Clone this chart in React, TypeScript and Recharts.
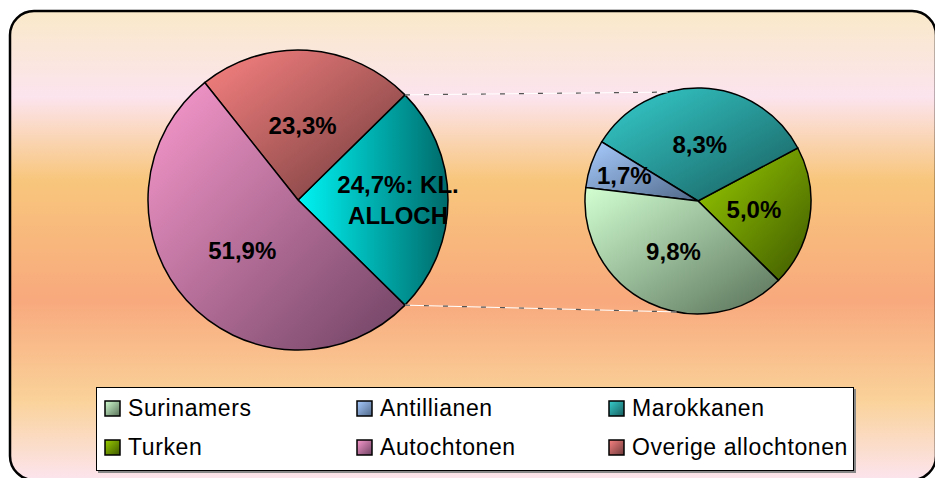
import { PieChart, Pie, Cell } from 'recharts';

const mainNames = ['Kl. allochtonen', 'Overige allochtonen', 'Autochtonen'];
const mainValues = [24.7, 23.3, 51.9];
const detailNames = ['Turken', 'Marokkanen', 'Antillianen', 'Surinamers'];
const detailValues = [5.0, 8.3, 1.7, 9.8];
const legendNames = ['Surinamers', 'Antillianen', 'Marokkanen', 'Turken', 'Autochtonen', 'Overige allochtonen'];

const GRAD: Record<string, [string, string]> = {
  'Kl. allochtonen': ['#00F4F4', '#006A6A'],
  'Overige allochtonen': ['#FA8282', '#6E3A3A'],
  Autochtonen: ['#FA9ACE', '#6E4262'],
  Marokkanen: ['#36CECE', '#185C5C'],
  Antillianen: ['#A8CCFF', '#506888'],
  Turken: ['#9ACE00', '#3E5800'],
  Surinamers: ['#D2FFD2', '#587058'],
};
const gid = (name: string) => 'g-' + name.replace(/[^a-z]/gi, '');

const W = 935;
const H = 478;
const FONT = '"Liberation Sans", Arial, sans-serif';
const RAD = Math.PI / 180;

const C1 = { x: 298, y: 200, r: 150 };
const C2 = { x: 698, y: 201, r: 113 };

const mainData = mainNames.map((name, i) => ({ name, value: mainValues[i] }));
const detailData = detailNames.map((name, i) => ({ name, value: detailValues[i] }));
const mainTotal = mainValues.reduce((a, b) => a + b, 0);
const half = ((mainValues[0] / mainTotal) * 360) / 2;

const fmt = (v: number) => v.toFixed(1).replace('.', ',') + '%';

function pt(c: { x: number; y: number; r: number }, deg: number) {
  return { x: c.x + c.r * Math.cos(-deg * RAD), y: c.y + c.r * Math.sin(-deg * RAD) };
}

const labelStyle = { fontFamily: FONT, fontSize: 24, fontWeight: 700, fill: '#000' };

function mainLabel(p: any) {
  const { cx, cy, midAngle, outerRadius, index, value } = p;
  const f = index === 0 ? 0.667 : 0.5;
  const x = cx + outerRadius * f * Math.cos(-midAngle * RAD);
  const y = cy + outerRadius * f * Math.sin(-midAngle * RAD);
  if (index === 0) {
    return (
      <g>
        <text x={x} y={y - 15.5 + 8.6} textAnchor="middle" style={labelStyle}>{fmt(value) + ': KL.'}</text>
        <text x={x} y={y + 15.5 + 8.6} textAnchor="middle" style={labelStyle}>ALLOCH</text>
      </g>
    );
  }
  return <text x={x} y={y + 8.6} textAnchor="middle" style={labelStyle}>{fmt(value)}</text>;
}

function detailLabel(p: any) {
  const { cx, cy, midAngle, outerRadius, value, name } = p;
  const f = name === 'Antillianen' ? 0.69 : 0.5;
  const x = cx + outerRadius * f * Math.cos(-midAngle * RAD);
  const y = cy + outerRadius * f * Math.sin(-midAngle * RAD);
  return <text x={x} y={y + 8.6} textAnchor="middle" style={labelStyle}>{fmt(value)}</text>;
}

export default function App() {
  const a1 = pt(C1, half);
  const b1 = pt(C1, -half);
  const a2 = pt(C2, 105.5);
  const b2 = pt(C2, 259);

  return (
    <div style={{ position: 'fixed', left: 0, top: 0, width: W, height: H, overflow: 'hidden', background: '#fff' }}>
      <svg width={W} height={H} style={{ position: 'absolute', left: 0, top: 0 }}>
        <defs>
          <linearGradient id="bg" x1="0" y1="11" x2="0" y2="478" gradientUnits="userSpaceOnUse">
            <stop offset="0" stopColor="#FAE9C9" />
            <stop offset="0.184" stopColor="#FCE4EE" />
            <stop offset="0.362" stopColor="#F8C67C" />
            <stop offset="0.619" stopColor="#F8A97D" />
            <stop offset="0.833" stopColor="#FAD299" />
            <stop offset="1" stopColor="#FCE4EC" />
          </linearGradient>
          {Object.keys(GRAD).map((k) => (
            <linearGradient
              key={k}
              id={gid(k)}
              x1="0"
              y1={k === 'Kl. allochtonen' ? '0.5' : '0'}
              x2="1"
              y2={k === 'Kl. allochtonen' ? '0.5' : '1'}
            >
              <stop offset="0" stopColor={GRAD[k][0]} />
              <stop offset="1" stopColor={GRAD[k][1]} />
            </linearGradient>
          ))}
        </defs>
        <rect x={10} y={11} width={926} height={469} rx={24} fill="url(#bg)" stroke="#000" strokeWidth={2.5} />
      </svg>

      <div style={{ position: 'absolute', left: 0, top: 0 }}>
        <PieChart width={W} height={H} margin={{ top: 0, right: 0, bottom: 0, left: 0 }}>
          <Pie
            data={mainData}
            dataKey="value"
            nameKey="name"
            cx={C1.x}
            cy={C1.y}
            outerRadius={C1.r}
            startAngle={-half}
            endAngle={360 - half}
            stroke="#000"
            strokeWidth={1.5}
            label={mainLabel}
            labelLine={false}
            isAnimationActive={false}
          >
            {mainData.map((d) => (
              <Cell key={d.name} fill={`url(#${gid(d.name)})`} />
            ))}
          </Pie>
          <Pie
            data={detailData}
            dataKey="value"
            nameKey="name"
            cx={C2.x}
            cy={C2.y}
            outerRadius={C2.r}
            startAngle={-44.6}
            endAngle={315.4}
            stroke="#000"
            strokeWidth={1.5}
            label={detailLabel}
            labelLine={false}
            isAnimationActive={false}
          >
            {detailData.map((d) => (
              <Cell key={d.name} fill={`url(#${gid(d.name)})`} />
            ))}
          </Pie>
        </PieChart>
      </div>

      <svg width={W} height={H} style={{ position: 'absolute', left: 0, top: 0, pointerEvents: 'none' }}>
        {[[a1, a2], [b1, b2]].map(([p, q], i) => (
          <g key={i}>
            <line x1={p.x} y1={p.y} x2={q.x} y2={q.y} stroke="#fff" strokeWidth={1} />
            <line x1={p.x} y1={p.y} x2={q.x} y2={q.y} stroke="#555" strokeWidth={1.2} strokeDasharray="5 14" />
          </g>
        ))}
        <rect x={98} y={389} width={758} height={84} fill="#888" />
        <rect x={96.5} y={387.5} width={757} height={83} fill="#fff" stroke="#000" strokeWidth={1} />
        {legendNames.map((name, i) => {
          const col = i % 3;
          const row = Math.floor(i / 3);
          const mx = 105 + col * 252;
          const my = 401 + row * 39;
          return (
            <g key={name}>
              <rect x={mx} y={my} width={15} height={15} fill={`url(#${gid(name)})`} stroke="#000" strokeWidth={1.5} />
              <text
                x={mx + 23}
                y={my + 14.5}
                style={{ fontFamily: FONT, fontSize: 23, letterSpacing: 0.6, fill: '#000' }}
              >
                {name}
              </text>
            </g>
          );
        })}
      </svg>
    </div>
  );
}
